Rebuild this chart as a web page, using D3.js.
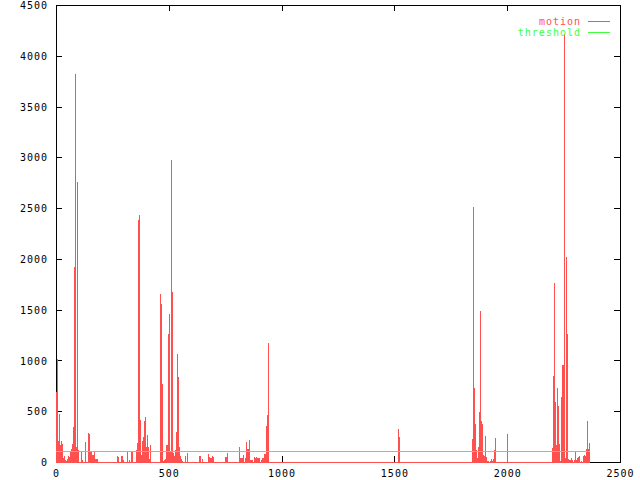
<!DOCTYPE html>
<html><head><meta charset="utf-8">
<script src="https://cdn.jsdelivr.net/npm/d3@7"></script>
<style>
html,body{margin:0;padding:0;background:#fff;}
svg{display:block;}
text{font-family:"DejaVu Sans Mono","Liberation Mono",monospace;font-size:10px;letter-spacing:1px;}
</style></head>
<body>
<svg id="chart" width="640" height="480"></svg>
<script>
// frame numbers and motion values (impulses)
const frames = [0,4,9,13,18,22,27,31,35,40,44,49,53,58,62,66,71,75,80,84,89,93,97,111,115,128,142,146,151,155,159,164,168,173,177,182,
270,275,288,292,297,315,323,332,337,354,359,363,368,372,377,381,385,390,394,399,403,407,412,416,
461,465,470,474,478,483,487,492,496,500,505,509,514,518,523,527,531,536,540,545,549,554,558,571,580,
633,638,647,673,678,682,687,691,696,749,753,758,811,815,820,824,828,837,842,846,851,855,859,864,868,877,882,886,890,895,899,908,913,917,922,926,930,935,939,
1515,1520,
1843,1847,1852,1856,1861,1865,1869,1874,1878,1883,1887,1892,1896,1900,1905,1909,1914,1923,1927,1931,1936,1940,1945,1998,
2197,2202,2206,2211,2215,2219,2224,2228,2233,2237,2242,2246,2250,2255,2259,2264,2268,2272,2277,2281,2286,2295,2299,2304,2308,2312,2317,2326,2335,2339,2343,2348,2352,2357,2361];
const motion = [693,1015,207,473,168,207,177,40,55,20,10,30,55,50,100,128,177,348,1916,3816,150,2754,120,98,20,197,285,271,100,100,70,70,102,30,30,25,
60,45,55,55,20,98,20,98,98,118,184,2386,2435,414,69,207,250,407,441,151,266,151,30,168,
1656,1558,769,10,15,30,168,168,1262,1459,100,2977,1676,89,55,118,299,1068,838,151,60,25,5,60,92,
55,55,30,79,50,40,40,55,45,52,52,92,151,39,35,35,65,40,200,128,128,217,20,20,20,52,40,50,38,42,42,20,38,38,80,80,358,467,1173,
325,247,
227,2511,730,375,118,39,151,493,1489,404,375,69,64,256,52,10,10,10,30,5,25,118,236,276,
141,851,1758,591,168,733,555,174,5,644,956,956,4210,42,2014,1262,28,15,20,42,20,15,108,15,42,50,55,10,60,70,55,125,404,128,187];
const frameRange = [0, 2363];
const thresholdFrames = [0, 2363];
const thresholdValues = [100, 100];
const xTicks = [0,500,1000,1500,2000,2500];
const yTicks = [0,500,1000,1500,2000,2500,3000,3500,4000,4500];
const seriesNames = ["motion","threshold"];
const seriesColors = ["#ff5050","#40ff40"];

const svg = d3.select("#chart");
const L = 56, R = 620, T = 5, B = 462;
const x = d3.scaleLinear().domain([0,2500]).range([L,R]);
const y = d3.scaleLinear().domain([0,4500]).range([B,T]);

// border
svg.append("rect").attr("x",L+0.5).attr("y",T+0.5).attr("width",R-L).attr("height",B-T)
  .attr("fill","none").attr("stroke","#000").attr("stroke-width",1).attr("shape-rendering","crispEdges");

function styleAxis(g){ g.select(".domain").remove(); g.selectAll("line").attr("stroke","#000").attr("shape-rendering","crispEdges"); }

svg.append("g").attr("transform",`translate(0,${B})`)
  .call(d3.axisBottom(x).tickValues(xTicks).tickSize(-6).tickPadding(8).tickFormat(d3.format("d")))
  .call(styleAxis).selectAll("text").attr("fill","#000").style("font-size","10px").attr("font-family",null);
svg.append("g").attr("transform",`translate(0,${T})`)
  .call(d3.axisTop(x).tickValues(xTicks).tickSize(-6).tickFormat(""))
  .call(styleAxis);
svg.append("g").attr("transform",`translate(${L},0)`)
  .call(d3.axisLeft(y).tickValues(yTicks).tickSize(-6).tickPadding(8).tickFormat(d3.format("d")))
  .call(styleAxis).selectAll("text").attr("fill","#000").attr("dy","0.36em").style("font-size","10px").attr("font-family",null);
svg.append("g").attr("transform",`translate(${R},0)`)
  .call(d3.axisRight(y).tickValues(yTicks).tickSize(-6).tickFormat(""))
  .call(styleAxis);

// zero impulses baseline
const bx0 = Math.round(x(frameRange[0])), bx1 = Math.round(x(frameRange[1]));
svg.append("rect").attr("x",bx0).attr("y",Math.round(y(0))).attr("width",bx1-bx0+1).attr("height",1)
  .attr("fill",seriesColors[0]).attr("shape-rendering","crispEdges");

// impulses
const data = frames.map((f,i)=>({f, v: motion[i]}));
svg.append("g").selectAll("rect").data(data).join("rect")
  .attr("x", d=>Math.round(x(d.f)))
  .attr("width",1)
  .attr("y", d=>Math.round(y(d.v)))
  .attr("height", d=>Math.round(y(0)) + 1 - Math.round(y(d.v)))
  .attr("fill",seriesColors[0]).attr("shape-rendering","crispEdges");

// threshold line
const tline = d3.line()
  .x(d=>Math.round(x(d[0])) + (d[0]===thresholdFrames[0] ? 0 : 1))
  .y(d=>Math.floor(y(d[1])) + 0.5);
svg.append("path")
  .datum(thresholdFrames.map((f,i)=>[f, thresholdValues[i]]))
  .attr("d", tline)
  .attr("fill","none").attr("stroke",seriesColors[1]).attr("stroke-width",1.2)
  .attr("shape-rendering","crispEdges");

// legend
const leg = svg.append("g");
seriesNames.forEach((n,i)=>{
  const yy = 21 + i*11;
  leg.append("text").attr("x",581).attr("y",yy).attr("dy","0.36em").attr("text-anchor","end")
    .attr("fill",seriesColors[i]).text(n);
  leg.append("rect").attr("x",588).attr("y",yy).attr("width",22).attr("height",1)
    .attr("fill",seriesColors[i]).attr("shape-rendering","crispEdges");
});
</script>
</body></html>
